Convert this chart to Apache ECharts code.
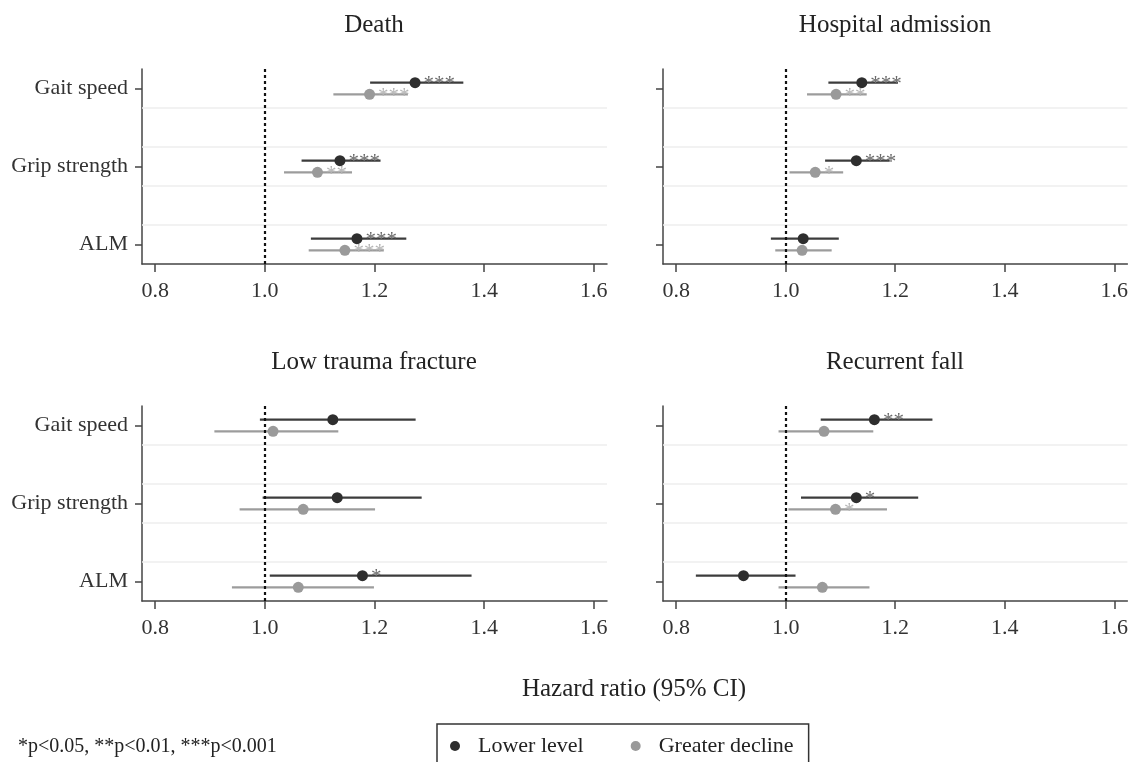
<!DOCTYPE html>
<html>
<head>
<meta charset="utf-8">
<script src="https://cdn.jsdelivr.net/npm/echarts@6/dist/echarts.min.js"></script>
<style>
  html, body { margin: 0; padding: 0; background: #fff; }
  #chart { width: 1131px; height: 762px; }
</style>
</head>
<body>
<div id="chart"></div>
<script>
// panels and rows
const outcomes = ['Death', 'Hospital admission', 'Low trauma fracture', 'Recurrent fall'];
const measures = ['Gait speed', 'Grip strength', 'ALM'];
const xTicks = [0.8, 1.0, 1.2, 1.4, 1.6];

// hazard ratios, one row per outcome, columns follow measures
const lowerHR = [[1.274, 1.137, 1.168], [1.139, 1.129, 1.032], [1.124, 1.132, 1.178], [1.162, 1.129, 0.923]];
const lowerLo = [[1.192, 1.067, 1.084], [1.078, 1.072, 0.973], [0.991, 0.996, 1.009], [1.064, 1.028, 0.836]];
const lowerHi = [[1.362, 1.211, 1.258], [1.205, 1.190, 1.097], [1.275, 1.286, 1.377], [1.268, 1.242, 1.018]];
const lowerSig = [['***', '***', '***'], ['***', '***', ''], ['', '', '*'], ['**', '*', '']];

const declineHR = [[1.191, 1.096, 1.146], [1.092, 1.054, 1.030], [1.015, 1.070, 1.061], [1.070, 1.091, 1.067]];
const declineLo = [[1.125, 1.035, 1.080], [1.039, 1.007, 0.981], [0.908, 0.954, 0.940], [0.987, 1.005, 0.987]];
const declineHi = [[1.261, 1.159, 1.217], [1.148, 1.105, 1.084], [1.134, 1.201, 1.199], [1.160, 1.185, 1.153]];
const declineSig = [['***', '**', '***'], ['**', '*', ''], ['', '', ''], ['', '*', '']];

const FONT = '"Liberation Serif", "Times New Roman", serif';
const DARK = '#2e2e2e';
const LIGHT = '#9a9a9a';

const gridPos = [
  {left: 142, top: 69},
  {left: 663, top: 69},
  {left: 142, top: 406},
  {left: 663, top: 406}
];

const grids = [], xAxes = [], yAxes = [], series = [], graphics = [];

function rowY(i) { return measures.length - i; }

outcomes.forEach((name, p) => {
  grids.push({left: gridPos[p].left, top: gridPos[p].top, width: 465, height: 195});
  xAxes.push({
    type: 'value', gridIndex: p, min: 0.776, max: 1.624,
    axisLine: {show: true, lineStyle: {color: '#444', width: 1.5}},
    axisTick: {show: true, length: 8, customValues: xTicks, lineStyle: {color: '#444', width: 1.5}},
    axisLabel: {customValues: xTicks, formatter: v => v.toFixed(1), margin: 16,
      fontFamily: FONT, fontSize: 22, color: '#333'},
    splitLine: {show: false}
  });
  yAxes.push({
    type: 'value', gridIndex: p, min: 0.75, max: 3.25,
    axisLine: {show: true, lineStyle: {color: '#444', width: 1.5}},
    axisTick: {show: true, length: 7, customValues: [1, 2, 3], lineStyle: {color: '#444', width: 1.5}},
    axisLabel: {show: p % 2 === 0, customValues: [1, 2, 3],
      formatter: v => measures[measures.length - Math.round(v)] || '',
      margin: 14, fontFamily: FONT, fontSize: 22, color: '#333'},
    splitLine: {show: false}
  });

  const groups = [
    {label: 'Lower level', hr: lowerHR[p], lo: lowerLo[p], hi: lowerHi[p], sig: lowerSig[p], color: DARK, line: '#3c3c3c', star: '#6a6a6a', dy: 0.075},
    {label: 'Greater decline', hr: declineHR[p], lo: declineLo[p], hi: declineHi[p], sig: declineSig[p], color: LIGHT, line: '#9c9c9c', star: '#b4b4b4', dy: -0.075}
  ];

  // reference line and faint row separators
  series.push({
    type: 'line', xAxisIndex: p, yAxisIndex: p, data: [], silent: true,
    markLine: {
      silent: true, symbol: 'none', label: {show: false}, animation: false,
      data: [
        {yAxis: 1.25, lineStyle: {color: '#eeeeee', width: 1.5, type: 'solid'}},
        {yAxis: 1.75, lineStyle: {color: '#eeeeee', width: 1.5, type: 'solid'}},
        {yAxis: 2.25, lineStyle: {color: '#eeeeee', width: 1.5, type: 'solid'}},
        {yAxis: 2.75, lineStyle: {color: '#eeeeee', width: 1.5, type: 'solid'}},
        {xAxis: 1, lineStyle: {color: '#111', width: 2.2, type: [3, 3]}}
      ]
    }
  });

  groups.forEach(g => {
    series.push({
      type: 'custom', name: g.label, xAxisIndex: p, yAxisIndex: p,
      itemStyle: {color: g.color},
      encode: {x: [0, 1], y: 2},
      data: g.hr.map((v, i) => [g.lo[i], g.hi[i], rowY(i) + g.dy]),
      renderItem: (params, api) => {
        const a = api.coord([api.value(0), api.value(2)]);
        const b = api.coord([api.value(1), api.value(2)]);
        return {type: 'line', shape: {x1: a[0], y1: a[1], x2: b[0], y2: b[1]},
          style: {stroke: g.line, lineWidth: 2.2}};
      },
      z: 3
    });
    series.push({
      type: 'scatter', name: g.label, xAxisIndex: p, yAxisIndex: p,
      symbol: 'circle', symbolSize: 11,
      itemStyle: {color: g.color, opacity: 1},
      data: g.hr.map((v, i) => [v, rowY(i) + g.dy, g.sig[i]]),
      label: {show: true, position: 'right', distance: 3, offset: [0, 2],
        formatter: d => d.data[2], fontFamily: FONT, fontSize: 21, color: g.star},
      z: 4
    });
  });

  graphics.push({
    type: 'text', x: gridPos[p].left + 232, y: gridPos[p].top - 44,
    style: {text: name, font: '25px ' + FONT, fill: '#222', align: 'center', verticalAlign: 'middle'}
  });
});

graphics.push({
  type: 'text', x: 634, y: 689,
  style: {text: 'Hazard ratio (95% CI)', font: '25px ' + FONT, fill: '#222', align: 'center', verticalAlign: 'middle'}
});
graphics.push({
  type: 'text', x: 18, y: 747,
  style: {text: '*p<0.05, **p<0.01, ***p<0.001', font: '20px ' + FONT, fill: '#222', align: 'left', verticalAlign: 'middle'}
});

const chart = echarts.init(document.getElementById('chart'));
chart.setOption({
  animation: false,
  backgroundColor: '#fff',
  grid: grids,
  xAxis: xAxes,
  yAxis: yAxes,
  legend: {
    left: 437, top: 724, icon: 'circle', itemWidth: 10, itemHeight: 10, itemGap: 47,
    padding: [11, 15, 14, 13], borderColor: '#333', borderWidth: 1.5,
    data: ['Lower level', 'Greater decline'],
    textStyle: {fontFamily: FONT, fontSize: 22, color: '#222', padding: [0, 0, 0, 13]}
  },
  graphic: graphics,
  series: series
});
</script>
</body>
</html>
